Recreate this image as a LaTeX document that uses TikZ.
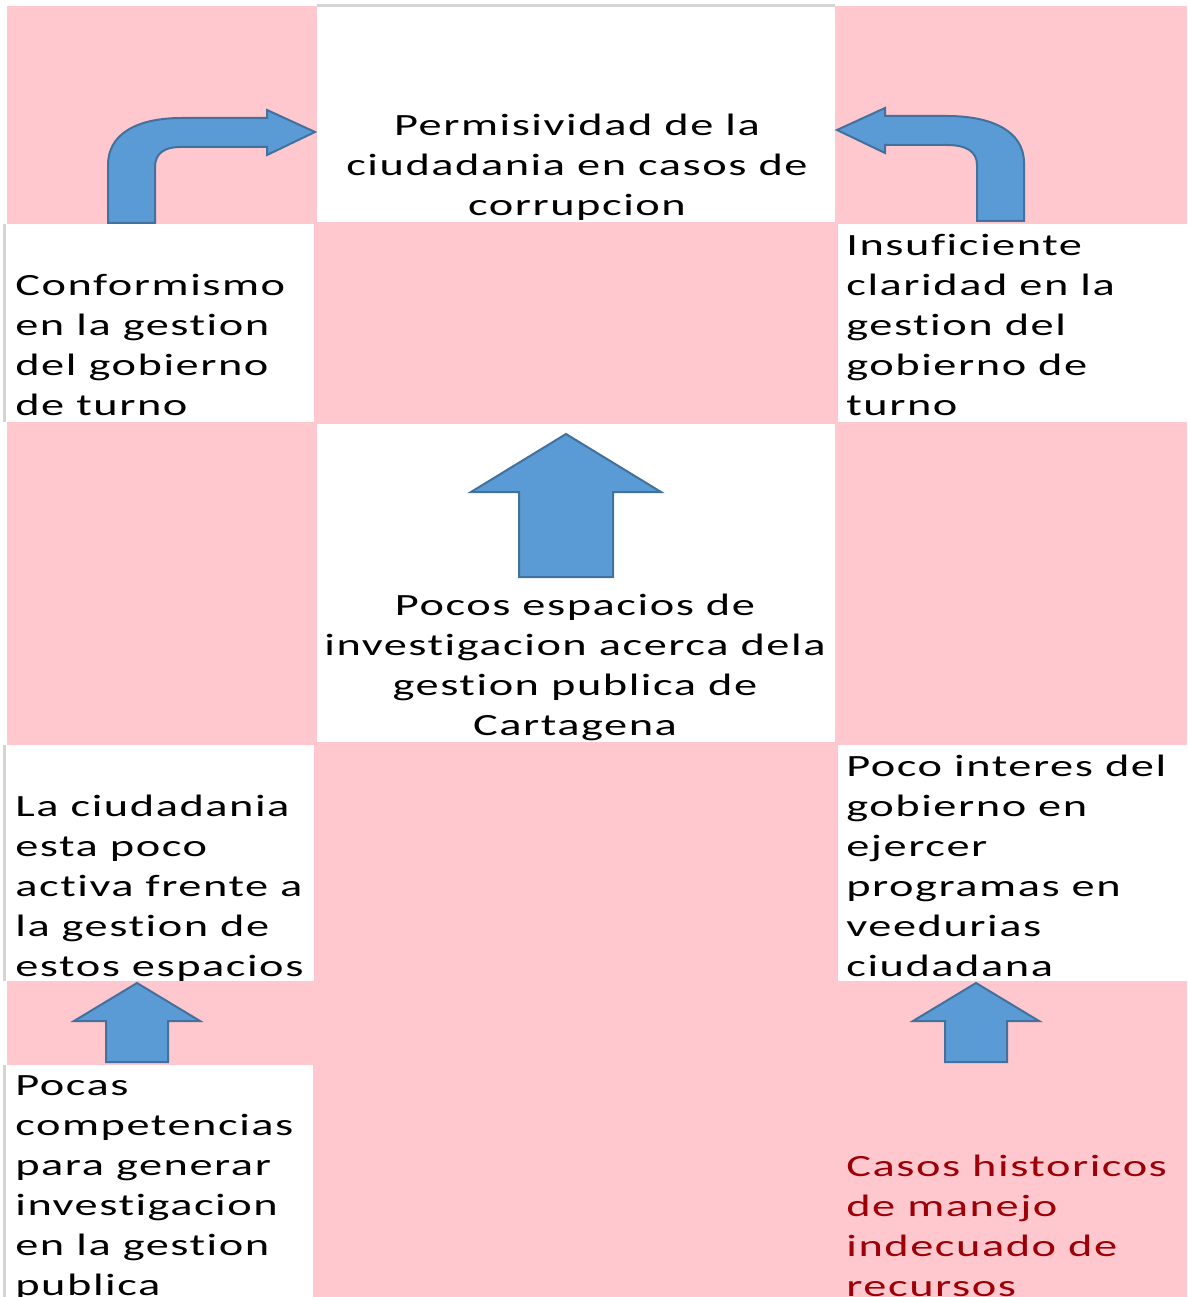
\documentclass[tikz,border=0pt]{standalone}
\usepackage{fontspec}
\setmainfont{Carlito}[FakeStretch=1.5, LetterSpace=5, Ligatures=NoCommon]
\usepackage{xcolor}
\usepackage{tikz}
\usetikzlibrary{fit}
\definecolor{badfill}{HTML}{FFC7CE}
\definecolor{badtext}{HTML}{9C0006}
\definecolor{arrowfill}{HTML}{5B9BD5}
\definecolor{arrowline}{HTML}{41719C}
\definecolor{gridgray}{HTML}{D4D4D4}
\tikzset{
    cell/.style={rectangle, fill=white, inner sep=0pt},
    cause/.style={inner sep=0pt, align=left, anchor=north west, font=\fontsize{17.6pt}{22.76pt}\selectfont, execute at begin node=\strut},
    effect/.style={cause, align=center, anchor=north},
    edgeline/.style={draw=gridgray, line width=0.05cm},
    blockarrow/.style={fill=arrowfill, draw=arrowline, line width=0.04cm, line join=miter}
}
\begin{document}
\begin{tikzpicture}[x=0.02cm, y=-0.02cm]
        \useasboundingbox (0,0) rectangle (1187,1297);
        \clip (0,0) rectangle (1187,1297);
        % Background
        \fill[badfill] (7,6) rectangle (1187,1297);

        % Cells
        \node[cell, fit={(317,6) (835,222)}] (cTop) {};
        \node[cell, fit={(7,224) (314,422)}] (cConf) {};
        \node[cell, fit={(838,224) (1187,422)}] (cInsu) {};
        \node[cell, fit={(317,424) (835,742)}] (cMid) {};
        \node[cell, fit={(7,745) (314,981)}] (cCiud) {};
        \node[cell, fit={(838,745) (1187,981)}] (cInte) {};
        \node[cell, fit={(7,1065) (313,1297)}] (cComp) {};

        % Cell borders
        \draw[edgeline] (cTop.north west) -- (cTop.north east);
        \draw[edgeline] ([xshift=-0.04cm]cConf.north west) -- ([xshift=-0.04cm]cConf.south west);
        \draw[edgeline] ([xshift=-0.04cm]cCiud.north west) -- ([xshift=-0.04cm]cCiud.south west);
        \draw[edgeline] ([xshift=-0.04cm]cComp.north west) -- ([xshift=-0.04cm]cComp.south west);

        % Texts
        \node[effect] (Permis) at (577,114) {Permisividad de la\\ciudadania en casos de\\corrupcion};
        \node[cause] (Conf) at (15,274) {Conformismo\\en la gestion\\del gobierno\\de turno};
        \node[cause] (Insu) at (846,234) {Insuficiente\\claridad en la\\gestion del\\gobierno de\\turno};
        \node[effect] (Espacios) at (575,594) {Pocos espacios de\\investigacion acerca dela\\gestion publica de\\Cartagena};
        \node[cause] (Ciud) at (15,795) {La ciudadania\\esta poco\\activa frente a\\la gestion de\\estos espacios};
        \node[cause] (Interes) at (846,755) {Poco interes del\\gobierno en\\ejercer\\programas en\\veedurias\\ciudadana};
        \node[cause] (Compet) at (15,1075) {Pocas\\competencias\\para generar\\investigacion\\en la gestion\\publica};
        \node[cause, text=badtext] (Casos) at (846,1155) {Casos historicos\\de manejo\\indecuado de\\recursos};

        % Arrows
        \draw[blockarrow] (108,223) -- (108,165) .. controls (108,135) and (135,118) .. (182,118) -- (267,118) -- (267,110) -- (315,132) -- (267,155) -- (267,147) -- (180,147) .. controls (165,147) and (155,153) .. (155,167) -- (155,223) -- cycle;
        \draw[blockarrow] (1024,221) -- (1024,163) .. controls (1024,130) and (990,116) .. (947,116) -- (885,116) -- (885,108) -- (837,130) -- (885,153) -- (885,145) -- (947,145) .. controls (967,145) and (977,152) .. (977,165) -- (977,221) -- cycle;
        \draw[blockarrow] (519,577) -- (519,492) -- (471,492) -- (566,434) -- (661,492) -- (613,492) -- (613,577) -- cycle;
        \draw[blockarrow] (106,1062) -- (106,1021) -- (74,1021) -- (137,983) -- (200,1021) -- (168,1021) -- (168,1062) -- cycle;
        \draw[blockarrow] (945,1062) -- (945,1021) -- (913,1021) -- (976,983) -- (1039,1021) -- (1007,1021) -- (1007,1062) -- cycle;

    \end{tikzpicture}
\end{document}
